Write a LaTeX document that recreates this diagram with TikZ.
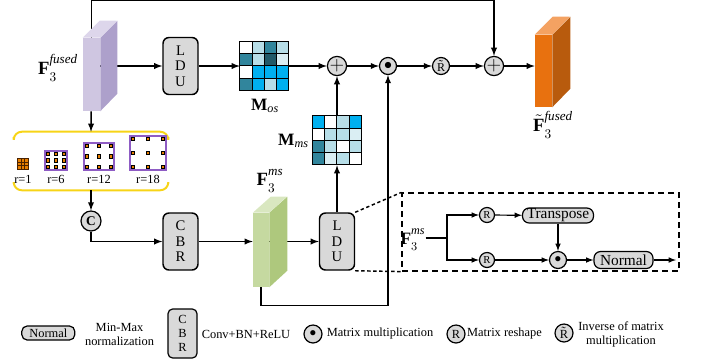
\documentclass[tikz,border=0pt]{standalone}
\usepackage{amsmath}
\usepackage{fontspec}
\setmainfont{Liberation Serif}
\usepackage{tikz}

\definecolor{boxgray}{HTML}{D9D9D9}
\definecolor{fusfront}{HTML}{CFC6E1}
\definecolor{fusside}{HTML}{ADA0CB}
\definecolor{fustop}{HTML}{DDD6EB}
\definecolor{msfront}{HTML}{C5D9A0}
\definecolor{msside}{HTML}{AEC87D}
\definecolor{mstop}{HTML}{D9E7C0}
\definecolor{outfront}{HTML}{E8710F}
\definecolor{outside}{HTML}{B85B0D}
\definecolor{outtop}{HTML}{F4A262}
\definecolor{mw}{HTML}{FFFFFF}
\definecolor{ml}{HTML}{B7DEE8}
\definecolor{mt}{HTML}{31859C}
\definecolor{md}{HTML}{215968}
\definecolor{mv}{HTML}{DAEEF3}
\definecolor{mc}{HTML}{00B0F0}
\definecolor{ybrk}{HTML}{F7D417}
\definecolor{kpurple}{HTML}{8E5CC4}
\definecolor{korange}{HTML}{E67E00}
\definecolor{kdark}{HTML}{4A2200}

\newcommand{\labfont}{\fontsize{14}{16}\selectfont}
\newcommand{\matfont}{\fontsize{13}{15}\selectfont}
\newcommand{\legfont}{\fontsize{9.3}{10.5}\selectfont}
\newcommand{\boxfont}{\fontsize{11}{11.6}\selectfont}
% feature label: F with subscript 3 and a raised superscript
\newcommand{\featlab}[2]{$#1_{\raisebox{-2pt}{$\scriptstyle 3$}}^{\raisebox{2.5pt}{$\scriptstyle\mathit{#2}$}}$}

\begin{document}
\begin{tikzpicture}[x=0.75pt,y=-0.75pt,>=latex,
  arr/.style={->,line width=1.1pt},
  sarr/.style={->,line width=0.9pt},
  graybox/.style={draw,line width=1.1pt,fill=boxgray,rounded corners=4.5pt,inner sep=0pt,align=center,font=\boxfont},
  opnode/.style={draw,circle,line width=0.9pt,fill=boxgray,inner sep=0pt,minimum size=12.75pt},
  pillbox/.style={draw,line width=0.9pt,fill=boxgray,rounded corners=5pt,inner sep=0pt},
  leg/.style={font=\legfont,align=center,inner sep=0pt}]
\useasboundingbox (0,0) rectangle (702,362);
% front faces of the feature blocks
\node[fill=fusfront,minimum width=12.75pt,minimum height=54.75pt,inner sep=0pt] (ffused) at (91.5,74.5) {};
\node[fill=msfront,minimum width=12pt,minimum height=55.5pt,inner sep=0pt] (fms) at (261,250) {};
\node[fill=outfront,minimum width=12.75pt,minimum height=54pt,inner sep=0pt] (fout) at (543.5,71) {};
\node[font=\labfont,inner sep=0pt] (ffusedl) at (58,68) {\featlab{\mathbf{F}}{fused}};
\node[font=\labfont,inner sep=0pt] (fmsl) at (270,181) {\featlab{\mathbf{F}}{ms}};
\node[font=\labfont,inner sep=0pt] (foutl) at (553,125) {\featlab{\tilde{\mathbf{F}}}{fused}};
% upper row
\node[graybox,minimum width=26.25pt,minimum height=42.75pt] (ldu1) at (180.5,66) {L\\D\\U};
\node[minimum size=36.75pt,inner sep=0pt] (mos) at (264.5,66) {};
\node[font=\matfont,inner sep=0pt] (mosl) at (265,106) {$\mathbf{M}_{\mathit{os}}$};
\node[opnode,font=\Large] (plus1) at (337,66) {$+$};
\node[opnode,font=\large] (dot1) at (388,66) {$\bullet$};
\node[opnode,font=\small] (rinv) at (441,66) {\~{R}};
\node[opnode,font=\Large] (plus2) at (494,66) {$+$};
\node[minimum size=36.75pt,inner sep=0pt] (mms) at (337,140.5) {};
\node[font=\matfont,left,inner sep=0pt] (mmsl) at (309,141) {$\mathbf{M}_{\mathit{ms}}$};
% lower row
\node[minimum width=115.5pt,minimum height=43.5pt,inner sep=0pt] (dil) at (91,161) {};
\node[opnode,minimum size=15pt,font=\bfseries] (cat) at (91,221) {C};
\node[graybox,minimum width=26.25pt,minimum height=42.75pt] (cbr) at (180.5,241.5) {C\\B\\R};
\node[graybox,minimum width=26.25pt,minimum height=42.75pt] (ldu2) at (337,241.5) {L\\D\\U};
% inside of LDU
\node[draw,dash pattern=on 4.5pt off 3pt,line width=0.9pt,minimum width=207.75pt,minimum height=58.5pt,inner sep=0pt] (zoom) at (540.5,232) {};
\node[font=\fontsize{13}{15}\selectfont,inner sep=0pt] (fin) at (413,240) {\featlab{\mathbf{F}}{ms}};
\coordinate (br) at (447,238);
\node[opnode,minimum size=11.25pt,font=\footnotesize] (rs1) at (487,215) {R};
\node[opnode,minimum size=11.25pt,font=\footnotesize] (rs2) at (487,260) {R};
\node[pillbox,minimum width=53.25pt,minimum height=11.25pt,font=\fontsize{11.5}{13}\selectfont] (trans) at (558,215.5) {Transpose};
\node[opnode] (dot2) at (558,260) {$\bullet$};
\node[pillbox,minimum width=44.25pt,minimum height=12.75pt,font=\fontsize{11.5}{13}\selectfont] (norm) at (623.5,260) {Normal};
\coordinate (zout) at (676,260);

% matrix cells
\foreach \c [count=\k from 0] in {w,l,t,l,t,l,d,v,w,c,c,c,t,c,l,c} {
  \pgfmathtruncatemacro\rw{\k/4}
  \pgfmathtruncatemacro\cl{\k-4*\rw}
  \draw[fill=m\c,line width=0.6pt,shift={(mos.north west)}] (\cl*12.25,\rw*12.25) rectangle ++(12.25,12.25);
}
\foreach \c [count=\k from 0] in {c,w,l,c,w,l,l,v,t,l,w,l,t,v,l,w} {
  \pgfmathtruncatemacro\rw{\k/4}
  \pgfmathtruncatemacro\cl{\k-4*\rw}
  \draw[fill=m\c,line width=0.6pt,shift={(mms.north west)}] (\cl*12.25,\rw*12.25) rectangle ++(12.25,12.25);
}

% dilated kernels
\draw[ybrk,line width=1.5pt,rounded corners=6pt] ([yshift=-4pt]dil.north west) -- (dil.north west) -- (dil.north east) -- ([yshift=-4pt]dil.north east);
\draw[ybrk,line width=1.5pt,rounded corners=6pt] ([yshift=5pt]dil.south west) -- (dil.south west) -- (dil.south east) -- ([yshift=5pt]dil.south east);
\fill[kdark] (17,158) rectangle (29,170);
\foreach \i in {-1,0,1} \foreach \j in {-1,0,1}
  \fill[korange] ({23+\i*3.8-1.4},{164+\j*3.8-1.4}) rectangle ++(2.8,2.8);
\node[leg] (r1) at (23,179) {r=1};
\foreach \cx/\cy/\hw/\hh/\rr in {56/160.5/11/9.5/6, 99/156.5/15/13.5/12, 148/153/18/17/18} {
  \draw[kpurple,line width=1pt] ({\cx-\hw},{\cy-\hh}) rectangle ({\cx+\hw},{\cy+\hh});
  \foreach \i in {-1,0,1} \foreach \j in {-1,0,1}
    \draw[fill=korange,line width=0.4pt] ({\cx+\i*(\hw-3)-1.75},{\cy+\j*(\hh-3)-1.75}) rectangle ++(3.5,3.5);
  \node[leg] (r\rr) at (\cx,179) {r=\rr};
}

% connectors
\draw[arr] (ffused.north) -- ++(0,-37) -| (plus2);
\draw[arr] (ffused.east |- ldu1) -- (ldu1);
\draw[arr] (ldu1) -- (mos);
\draw[arr] (mos) -- (plus1);
\draw[arr] (plus1) -- (dot1);
\draw[arr] (dot1) -- (rinv);
\draw[arr] (rinv) -- (plus2);
\draw[arr] (plus2) -- (plus2 -| fout.west);
\draw[arr] (mms) -- (plus1);
\draw[arr] (ldu2) -- (mms);
\draw[arr] (ffused) -- (dil.north);
\draw[arr] (dil.south) -- (cat);
\draw[arr] (cat) |- (cbr);
\draw[arr] (cbr) -- (cbr -| fms.west);
\draw[arr] (fms.east |- ldu2) -- (ldu2);
\draw[arr] (fms.south) -- ++(0,18) -| (dot1);
\draw[line width=1.1pt,dash pattern=on 2.5pt off 2pt] (ldu2.north east) -- (zoom.north west);
\draw[line width=1.1pt,dash pattern=on 2.5pt off 2pt] (ldu2.south east) -- (zoom.south west);
\draw[line width=0.9pt] (fin.east |- br) -- (br);
\draw[sarr] (br) |- (rs1);
\draw[sarr] (br) |- (rs2);
\draw[sarr] (rs1) -- (trans);
\draw[sarr] (trans) -- (dot2);
\draw[sarr] (rs2) -- (dot2);
\draw[sarr] (dot2) -- (norm);
\draw[sarr] (norm) -- (zout);

% side and top faces
\fill[fusside] (ffused.north east) -- ++(17,-17) -- ++(0,73) -- (ffused.south east) -- cycle;
\fill[fustop] (ffused.north west) -- ++(17,-17) -- ++(17,0) -- (ffused.north east) -- cycle;
\fill[msside] (fms.north east) -- ++(18,-16) -- ++(0,74) -- (fms.south east) -- cycle;
\fill[mstop] (fms.north west) -- ++(18,-16) -- ++(16,0) -- (fms.north east) -- cycle;
\fill[outside] (fout.north east) -- ++(18,-18) -- ++(0,72) -- (fout.south east) -- cycle;
\fill[outtop] (fout.north west) -- ++(18,-18) -- ++(17,0) -- (fout.north east) -- cycle;

% legend
\node[pillbox,minimum width=39.75pt,minimum height=10.5pt,font=\legfont,rounded corners=4pt] (lnorm) at (48.3,333) {Normal};
\node[leg] (lnormt) at (119.5,334) {Min-Max\\normalization};
\node[graybox,line width=0.9pt,minimum width=21.75pt,minimum height=36.75pt,font=\legfont,rounded corners=3.5pt] (lcbr) at (182.5,333.5) {C\\B\\R};
\node[leg] (lcbrt) at (246,334) {Conv+BN+ReLU};
\node[opnode,minimum size=13.5pt,font=\normalsize] (ldot) at (313,334) {$\bullet$};
\node[leg] (ldott) at (380,334) {Matrix multiplication};
\node[opnode,minimum size=13.5pt,font=\legfont] (lr) at (456,334) {R};
\node[leg] (lrt) at (504.5,334) {Matrix reshape};
\node[opnode,minimum size=13.5pt,font=\legfont] (lri) at (564,333) {\~{R}};
\node[leg] (lrit) at (621,334) {Inverse of matrix\\multiplication};
\end{tikzpicture}
\end{document}
